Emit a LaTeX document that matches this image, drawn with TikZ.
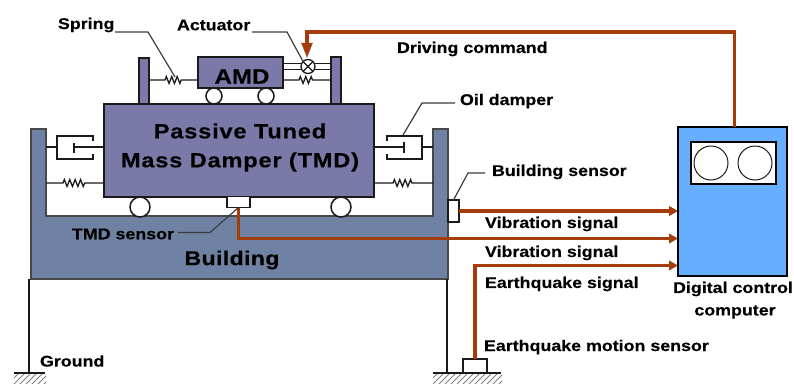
\documentclass[tikz,border=0pt]{standalone}
\usepackage{fontspec}
\setmainfont{Liberation Sans}[FakeStretch=1.15,BoldFeatures={FakeBold=0.35}]
\usetikzlibrary{arrows.meta,decorations.pathmorphing}
\definecolor{tmdc}{HTML}{7B79A8}
\definecolor{bldc}{HTML}{6F82A3}
\definecolor{sigc}{HTML}{A63C0C}
\definecolor{compc}{HTML}{66AFFF}
\definecolor{inkc}{HTML}{1A1A1A}
\tikzset{
  every node/.style={inner sep=0pt,outer sep=0pt},
  lbl/.style={font=\fontsize{15.5}{17}\selectfont\bfseries,text=black,anchor=west},
  big/.style={font=\fontsize{20.5}{22}\selectfont\bfseries,text=black,anchor=center},
  part/.style={draw=inkc,line width=1.7pt},
  thin line/.style={draw=inkc,line width=1.3pt},
  leader/.style={draw=inkc!85,line width=1.2pt},
  sensorbox/.style={draw=inkc,line width=1.1pt,fill=white,rectangle},
  wheel/.style={draw=inkc,line width=1.5pt,fill=white,circle,minimum size=#1},
  sig/.style={draw=sigc,line width=3.6pt},
  sigarrow/.style={sig,-{Triangle[length=9pt,width=9.5pt]}},
  coil/.style={thin line,decoration={zigzag,segment length=5.4pt,amplitude=3.4pt,pre length=#1,post length=#1},decorate},
  hatchl/.style={draw=gray,line width=0.8pt},
}
\begin{document}
\begin{tikzpicture}[x=1pt,y=-1pt]
\useasboundingbox (0,0) rectangle (794,383);
% building
\path[fill=bldc,draw=inkc!80,line width=1.3pt] (31,129)--(46,129)--(46,216)--(433,216)--(433,129)--(448,129)--(448,279)--(31,279)--cycle;
% columns and ground
\coordinate (gl) at (29,373); \coordinate (gr) at (447,373);
\draw[thin line] (29,279)--(gl);
\draw[thin line] (447,279)--(gr);
\begin{scope}
\clip (14,373) rectangle (46,383);
\foreach \x in {8,14,...,56} \draw[hatchl] (\x,384)--(\x+11,373);
\end{scope}
\begin{scope}
\clip (433,373) rectangle (502,383);
\foreach \x in {427,433,...,508} \draw[hatchl] (\x,384)--(\x+11,373);
\end{scope}
\draw[thin line] (14,373)--(45,373);
\draw[thin line] (433,373)--(501,373);
% springs and dampers of the TMD
\draw[coil=17pt] (46,183)--(104,183);
\draw[coil=19pt] (374,183)--(433,183);
\draw[thin line] (46,147)--(57,147) (57,147)--(57,136)--(93,136)--(93,141) (57,147)--(57,159)--(93,159)--(93,154);
\draw[thin line] (104,147)--(74,147) (74,143)--(74,153);
\draw[thin line] (433,147)--(422,147) (422,147)--(422,136)--(387,136)--(387,141) (422,147)--(422,159)--(387,159)--(387,154);
\draw[thin line] (374,147)--(404,147) (404,142)--(404,153);
% uprights
\path[fill=tmdc,draw=inkc,line width=1.2pt] (139,106)--(139,58)--(149,58)--(149,106);
\path[fill=tmdc,draw=inkc,line width=1.2pt] (331,106)--(331,57)--(341,57)--(341,106);
% TMD body
\node[part,fill=tmdc,rectangle,minimum width=270pt,minimum height=93pt] (tmd) at (239,150.5) {};
\node[big] (t1) at (240,131) {\addfontfeature{LetterSpace=4}Passive Tuned};
\node[big] (t2) at (240,162) {\addfontfeature{LetterSpace=4}Mass Damper (TMD)};
% AMD
\node[wheel=16pt] (w1) at (214,96) {};
\node[wheel=16pt] (w2) at (266,96) {};
\node[part,fill=tmdc,rectangle,minimum width=85pt,minimum height=31pt] (amd) at (240.5,72.5) {};
\node[big,font=\fontsize{21}{22}\selectfont\bfseries] (amdt) at (242,76.5) {AMD};
\node[wheel=20pt] (w3) at (140,207) {};
\node[wheel=20pt] (w4) at (341,207) {};
\draw[coil=16pt] (149,80)--(amd.west |- 0,80);
\draw[coil=16pt] (amd.east |- 0,80)--(331,80);
\draw[thin line] (amd.east |- 0,63.5)--(331,63.5) (amd.east |- 0,69.5)--(331,69.5);
\node[draw=inkc,line width=1.3pt,fill=white,circle,minimum size=14pt] (act) at (308,66.5) {};
\draw[thin line] (act.north west)--(act.south east) (act.north east)--(act.south west);
% sensors
\node[sensorbox,minimum width=23pt,minimum height=11pt] (tmds) at (238.5,202) {};
\node[sensorbox,minimum width=11pt,minimum height=22pt] (blds) at (453.5,211) {};
\node[sensorbox,minimum width=24pt,minimum height=14pt] (eqs) at (475,366) {};
% computer
\node[draw=black,line width=2pt,fill=compc,rectangle,minimum width=109pt,minimum height=149pt] (comp) at (732.5,201.5) {};
\node[draw=black,line width=2pt,fill=white,rectangle,minimum width=85pt,minimum height=42pt] (disp) at (733.5,163) {};
\node[draw=inkc,line width=1pt,circle,minimum size=34pt] (c1) at (711,163) {};
\node[draw=inkc,line width=1pt,circle,minimum size=34pt] (c2) at (755,163) {};
% signals
\coordinate (d1) at (734.5,32); \coordinate (d2) at (307,32);
\draw[sig] (comp.north -| d1)--(d1)--(d2)--(307,44);
\draw[sigc,fill=sigc] (301.5,43)--(312.5,43)--(307,57)--cycle;
\draw[sigarrow] (blds.east |- 0,211)--(comp.west |- 0,211);
\draw[sigarrow] (tmds.south -| 238.5,0)--(238.5,238.5)--(comp.west |- 0,238.5);
\draw[sigarrow] (eqs.north)--(475,265.5)--(comp.west |- 0,265.5);
% labels
\node[lbl] (spring) at (58,25) {Spring};
\node[lbl] (actl) at (177,25) {Actuator};
\node[lbl] (drive) at (397,49) {Driving command};
\node[lbl] (oil) at (460,101) {Oil damper};
\node[lbl] (bldl) at (492,172) {Building sensor};
\node[lbl] (vib1) at (485,224) {Vibration signal};
\node[lbl] (vib2) at (485,253) {Vibration signal};
\node[lbl] (eql) at (485,284) {Earthquake signal};
\node[lbl] (eqm) at (484,347) {Earthquake motion sensor};
\node[lbl] (tmdl) at (72,234) {TMD sensor};
\node[lbl] (gnd) at (40,361) {Ground};
\node[big,anchor=center,font=\fontsize{20}{22}\selectfont\bfseries] (bld) at (232,260) {\addfontfeature{LetterSpace=2}Building};
\node[lbl,anchor=center] (dc1) at (733,289) {Digital control};
\node[lbl,anchor=center] (dc2) at (735,312) {computer};
% leaders
\draw[leader] (115,32)--(148,32)--(175,77);
\draw[leader] (252,32)--(287,32)--(act.north west);
\draw[leader] (455,103)--(422,103)--(403,135);
\draw[leader] (485,173)--(468,173)--(blds.north);
\draw[leader] (178,232.5)--(210,232.5)--(tmds.south);
\end{tikzpicture}
\end{document}
